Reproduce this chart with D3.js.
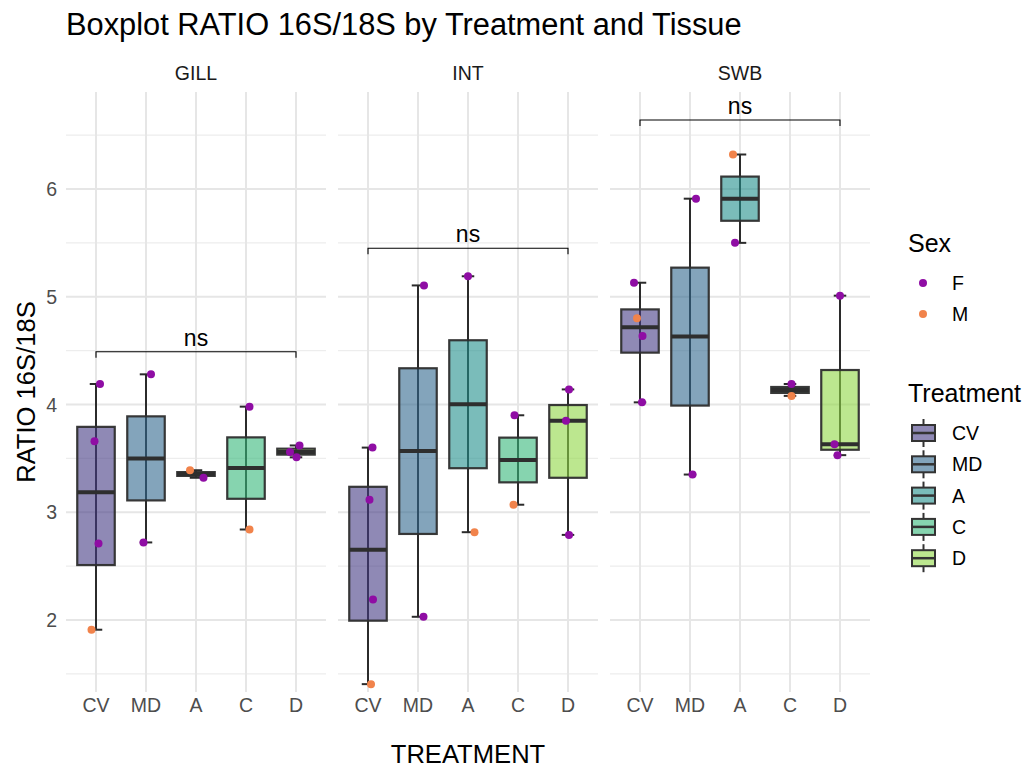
<!DOCTYPE html>
<html><head><meta charset="utf-8">
<script src="https://cdn.jsdelivr.net/npm/d3@7"></script>
<style>body{margin:0;background:#fff}text{font-family:"Liberation Sans",Arial,sans-serif}</style>
</head><body><svg id="c" width="1024" height="769"></svg>
<script>
const tissues = ["GILL","INT","SWB"];
const treatments = ["CV","MD","A","C","D"];
const sexes = ["F","M"];
// observations: tissue, treatment, sex, ratio, horizontal jitter (fraction of category step)
const obsTissue = ["GILL","GILL","GILL","GILL","GILL","GILL","GILL","GILL","GILL","GILL","GILL","GILL","GILL",
  "INT","INT","INT","INT","INT","INT","INT","INT","INT","INT","INT","INT","INT",
  "SWB","SWB","SWB","SWB","SWB","SWB","SWB","SWB","SWB","SWB","SWB","SWB","SWB"];
const obsTreatment = ["CV","CV","CV","CV","MD","MD","A","A","C","C","D","D","D",
  "CV","CV","CV","CV","MD","MD","A","A","C","C","D","D","D",
  "CV","CV","CV","CV","MD","MD","A","A","C","C","D","D","D"];
const obsSex = ["F","F","F","M","F","F","M","F","F","M","F","F","F",
  "F","F","F","M","F","F","F","M","F","M","F","F","F",
  "F","M","F","F","F","F","M","F","F","M","F","F","F"];
const obsRatio = [4.19,3.66,2.71,1.91, 4.28,2.72, 3.39,3.32, 3.98,2.84, 3.62,3.56,3.51,
  3.60,3.115,2.19,1.405, 5.105,2.03, 5.19,2.815, 3.90,3.07, 4.14,3.85,2.79,
  5.13,4.80,4.635,4.02, 5.91,3.35, 6.32,5.50, 4.19,4.08, 5.01,3.63,3.53];
const obsJitter = [0.08,-0.03,0.05,-0.09, 0.10,-0.05, -0.12,0.15, 0.07,0.07, 0.07,-0.12,0.01,
  0.09,0.03,0.10,0.06, 0.12,0.11, 0.0,0.13, -0.07,-0.09, 0.02,-0.04,0.02,
  -0.12,-0.06,0.05,0.04, 0.12,0.05, -0.14,-0.10, 0.03,0.03, 0.0,-0.11,-0.05];
const bracketY = [4.49, 5.45, 6.64];
const bracketLabel = ["ns","ns","ns"];
const yTicks = [2,3,4,5,6];
const yMinor = [1.5,2.5,3.5,4.5,5.5,6.5];
const yDomain = [1.332, 6.90];
const treatColors = ["#443A83","#31688E","#21908C","#35B779","#8FD744"];
const sexColors = ["#8F0DA4","#F1834B"];

const svg = d3.select("#c");
const data = obsRatio.map((v,i)=>({tissue:obsTissue[i],treat:obsTreatment[i],sex:obsSex[i],v,j:obsJitter[i]}));

const panelTop = 92, panelBottom = 692;
const panelW = 260, gap = 12, left0 = 66;
const y = d3.scaleLinear().domain(yDomain).range([panelBottom, panelTop]);
const fillScale = d3.scaleOrdinal().domain(treatments).range(treatColors);
const sexScale = d3.scaleOrdinal().domain(sexes).range(sexColors);

// title
svg.append("text").attr("x",66).attr("y",35).attr("font-size",30.8).attr("fill","#000")
  .text("Boxplot RATIO 16S/18S by Treatment and Tissue");

tissues.forEach((tis,pi)=>{
  const pl = left0 + pi*(panelW+gap), pr = pl + panelW;
  const x = d3.scaleLinear().domain([-0.6,4.6]).range([pl,pr]);
  const step = x(1)-x(0);
  const g = svg.append("g");
  // grid
  g.selectAll(".mn").data(yMinor).enter().append("line")
    .attr("x1",pl).attr("x2",pr).attr("y1",d=>y(d)).attr("y2",d=>y(d))
    .attr("stroke","#ededed").attr("stroke-width",1.2);
  g.selectAll(".mj").data(yTicks).enter().append("line")
    .attr("x1",pl).attr("x2",pr).attr("y1",d=>y(d)).attr("y2",d=>y(d))
    .attr("stroke","#e6e6e6").attr("stroke-width",2);
  g.selectAll(".vx").data(treatments).enter().append("line")
    .attr("x1",(d,i)=>x(i)).attr("x2",(d,i)=>x(i)).attr("y1",panelTop).attr("y2",panelBottom)
    .attr("stroke","#e6e6e6").attr("stroke-width",2);
  // strip label
  svg.append("text").attr("x",(pl+pr)/2).attr("y",80).attr("text-anchor","middle")
    .attr("font-size",19.5).attr("fill","#1a1a1a").text(tis);
  // x tick labels
  svg.selectAll(null).data(treatments).enter().append("text")
    .attr("x",(d,i)=>x(i)).attr("y",712).attr("text-anchor","middle")
    .attr("font-size",19.5).attr("fill","#4d4d4d").text(d=>d);

  treatments.forEach((tr,ti)=>{
    const vals = data.filter(d=>d.tissue===tis&&d.treat===tr).map(d=>d.v).sort(d3.ascending);
    if(!vals.length) return;
    const q1 = d3.quantile(vals,0.25), med = d3.quantile(vals,0.5), q3 = d3.quantile(vals,0.75);
    const iqr = q3-q1;
    const wlo = d3.min(vals.filter(v=>v>=q1-1.5*iqr)), whi = d3.max(vals.filter(v=>v<=q3+1.5*iqr));
    const cx = x(ti), bw = 0.75*step, ew = 0.25*step;
    // errorbar
    g.append("line").attr("x1",cx).attr("x2",cx).attr("y1",y(wlo)).attr("y2",y(whi))
      .attr("stroke","#2b2b2b").attr("stroke-width",2);
    [wlo,whi].forEach(w=>g.append("line").attr("x1",cx-ew/2).attr("x2",cx+ew/2).attr("y1",y(w)).attr("y2",y(w))
      .attr("stroke","#2b2b2b").attr("stroke-width",2));
    // box
    g.append("rect").attr("x",cx-bw/2).attr("width",bw).attr("y",y(q3)).attr("height",Math.max(0,y(q1)-y(q3)))
      .attr("fill",fillScale(tr)).attr("fill-opacity",0.6).attr("stroke","#2e2e2e").attr("stroke-opacity",0.95).attr("stroke-width",2.2);
    g.append("line").attr("x1",cx-bw/2).attr("x2",cx+bw/2).attr("y1",y(med)).attr("y2",y(med))
      .attr("stroke","#2e2e2e").attr("stroke-width",4);
  });
  // points
  g.selectAll(".pt").data(data.filter(d=>d.tissue===tis)).enter().append("circle")
    .attr("cx",d=>x(treatments.indexOf(d.treat))+d.j*step).attr("cy",d=>y(d.v)).attr("r",4)
    .attr("fill",d=>sexScale(d.sex));
  // bracket
  const by = y(bracketY[pi]), tip = 6;
  g.append("path").attr("d",`M${x(0)},${by+tip}V${by}H${x(4)}V${by+tip}`)
    .attr("fill","none").attr("stroke","#000").attr("stroke-width",1.1);
  g.append("text").attr("x",(x(0)+x(4))/2).attr("y",by-6).attr("text-anchor","middle")
    .attr("font-size",23).attr("fill","#000").text(bracketLabel[pi]);
});

svg.selectAll(".yl").data(yTicks).enter().append("text")
  .attr("x",57).attr("y",d=>y(d)).attr("dy","0.36em").attr("text-anchor","end")
  .attr("font-size",19.5).attr("fill","#4d4d4d").text(d=>d);

// axis titles
svg.append("text").attr("x",(left0+left0+3*panelW+2*gap)/2).attr("y",763).attr("text-anchor","middle")
  .attr("font-size",25.6).attr("fill","#000").text("TREATMENT");
svg.append("text").attr("transform",`translate(35,${(panelTop+panelBottom)/2}) rotate(-90)`)
  .attr("text-anchor","middle").attr("font-size",25.6).attr("fill","#000").text("RATIO 16S/18S");

// legends
const lx = 908;
svg.append("text").attr("x",lx).attr("y",252).attr("font-size",25).attr("fill","#000").text("Sex");
sexes.forEach((s,i)=>{
  const cy = 283 + i*31;
  svg.append("circle").attr("cx",923).attr("cy",cy).attr("r",4).attr("fill",sexScale(s));
  svg.append("text").attr("x",952).attr("y",cy).attr("dy","0.36em").attr("font-size",19.5).attr("fill","#000").text(s);
});
svg.append("text").attr("x",lx).attr("y",402).attr("font-size",25).attr("fill","#000").text("Treatment");
treatments.forEach((t,i)=>{
  const cy = 433 + i*31.3;
  svg.append("line").attr("x1",923.5).attr("x2",923.5).attr("y1",cy-14).attr("y2",cy+14).attr("stroke","#333").attr("stroke-width",2);
  svg.append("rect").attr("x",912).attr("y",cy-8).attr("width",23).attr("height",16)
    .attr("fill","#fff");
  svg.append("rect").attr("x",912).attr("y",cy-8).attr("width",23).attr("height",16)
    .attr("fill",fillScale(t)).attr("fill-opacity",0.6).attr("stroke","#333").attr("stroke-width",2);
  svg.append("line").attr("x1",912).attr("x2",935).attr("y1",cy).attr("y2",cy).attr("stroke","#333").attr("stroke-width",2.5);
  svg.append("text").attr("x",952).attr("y",cy).attr("dy","0.36em").attr("font-size",19.5).attr("fill","#000").text(t);
});
</script></body></html>
